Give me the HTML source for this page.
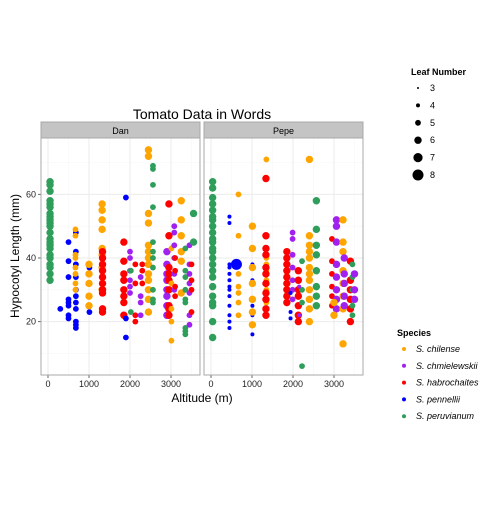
<!DOCTYPE html>
<html><head><meta charset="utf-8"><style>
body{margin:0;background:#fff;font-family:"Liberation Sans",sans-serif}
svg text{font-family:"Liberation Sans",sans-serif}
</style></head><body>
<svg id="chart" width="504" height="504" xmlns="http://www.w3.org/2000/svg">
<text x="202" y="119" font-size="14" text-anchor="middle">Tomato Data in Words</text>
<g id="panels"></g>
<text x="202" y="402" font-size="12" text-anchor="middle">Altitude (m)</text>
<text x="0" y="0" font-size="12" text-anchor="middle" transform="translate(19,256) rotate(-90)">Hypocotyl Length (mm)</text>
<g id="legend1"><text x="411" y="75" font-size="9" font-weight="bold">Leaf Number</text></g>
<g id="legend2"><text x="397" y="336" font-size="9" font-weight="bold">Species</text></g>
</svg>
<script>
const species=["S. chilense","S. chmielewskii","S. habrochaites","S. pennellii","S. peruvianum"];
const colors=["#FFA500","#A020F0","#FF0000","#0000FF","#2E9E5A"];
const leafLevels=[3,4,5,6,7,8];
const xTicks=[0,1000,2000,3000];
const yTicks=[20,40,60];
const panelNames=["Dan","Pepe"];
// groups: panel | species index | altitude | lengths | leaf
const danGroups=[
"0|4|50|64,63,61,58,57,56,54,53,52,51,50,48,46,45,44,43,41,40,38,37,35,33|6",
"0|3|300|24|5","0|3|500|45,39,34,27,26,25,22,21|5","0|3|680|48,42,38,34,30,28,26,24,20,19,18|5",
"0|0|670|49,47,41,40,37,35,32,30|5","0|3|1010|37,35,23|5","0|0|1000|38,35,32,28,25|6",
"0|0|1320|57,55,52,49,43,41,37,30|6","0|2|1330|42,40,38,36,34,32,30,29,24,23|6",
"0|2|1850|45,39,35,33,30,28,26,22|6","0|3|1900|59,21,15|5",
"0|1|2000|42,40,36,33,31,29|5","0|4|2020|36,23|5","0|2|2130|38,32,22,20|5",
"0|1|2260|34,28,26,22|5","0|2|2300|38,36,32|5",
"0|0|2450|74,72,54,51,44,42,40,38,35,33,30,27,23|6","0|4|2560|69,68,63,56,45,42,40,37,30,27,26|5",
"0|1|2900|42,38,35,33,30,28,25,22|6","0|2|2950|57,47,37,35,33,30,25,24,22|6","0|0|3010|43,32,24,20,14|5",
"0|1|3080|50,48,44,40,35,30|5","0|2|3100|40,36,31,28|5",
"0|0|3250|58,52,47,42,39,29|6","0|4|3350|43,36,34,30,27,26,18,17,16|5",
"0|1|3450|44,38,35,32,29,22,19|5","0|2|3500|38,33,30,23|5","0|4|3550|54,45|6"];
const pepeGroups=[
"1|4|40|64,62,59,57,55,53,52,50,48,46,45,43,42,40,38,36,34,31,28,26,25,20,15|6",
"1|3|450|53,51,38,37,35,33,31,30,28,25,22,20,18|4","1|3|620|38|8","1|0|670|60,47,35,31,29,26,22|5",
"1|3|1010|38,33,25,22,19,16|4","1|0|1010|50,43,37,32,27,23,19|6",
"1|0|1350|71,40,38,36,33,30,26|5","1|2|1340|65,47,43,41,37,35,32,29,27,24,22|6",
"1|2|1850|42,40,38,36,34,32,30,28,26|6","1|1|1990|48,46,41,37,33,30,27|5","1|3|1940|29,23,21|4",
"1|2|2130|36,33,30,28,25,22,20|6","1|4|2220|39,30,26,6|5","1|1|2150|31,22|4",
"1|0|2400|71,47,44,42,40,37,35,33,30,27,24,20|6","1|4|2570|58,49,44,41,36,31,28,25|6",
"1|2|2950|46,39,35,31,28,25|5","1|1|3060|52,50,45,38,34,30,27,24|6","1|0|3000|26,22|6",
"1|0|3220|52,45,42,36,32,28,24,13|6","1|1|3250|40,35,32,28,25|6","1|2|3400|39,33,30,27,24,20|6",
"1|4|3450|38,34,30,25,22|5","1|1|3500|35,30,27|6"];
const NS="http://www.w3.org/2000/svg";
function mk(t,a){const e=document.createElementNS(NS,t);for(const k in a)e.setAttribute(k,a[k]);return e;}
const panelX=[41,204],panelW=159,plotTop=138,plotBot=375;
function xs(p,alt){return panelX[p]+7+alt*0.041;}
function ys(v){return 258-(v-40)*3.18;}
function rs(l){return [1,2,2.9,3.7,4.6,5.5][l-3];}
const G=document.getElementById('panels');
panelNames.forEach((n,p)=>{
 const bg=mk('rect',{x:panelX[p],y:plotTop,width:panelW,height:plotBot-plotTop,fill:'#fff'});
 
 G.appendChild(bg);
 for(let v=10;v<=70;v+=10){G.appendChild(mk('line',{x1:panelX[p],x2:panelX[p]+panelW,y1:ys(v),y2:ys(v),stroke:v%20==0?'#ebebeb':'#f4f4f4','stroke-width':v%20==0?1:0.5}));}
 for(let a=-500;a<=3500;a+=500){const x=xs(p,a);if(x<panelX[p]||x>panelX[p]+panelW)continue;G.appendChild(mk('line',{x1:x,x2:x,y1:plotTop,y2:plotBot,stroke:a%1000==0?'#ebebeb':'#f4f4f4','stroke-width':a%1000==0?1:0.5}));}
 const st=mk('rect',{x:panelX[p],y:122,width:panelW,height:16,fill:'#c4c4c4',stroke:'#a8a8a8'});
 
 G.appendChild(st);
 const tl=mk('text',{x:panelX[p]+panelW/2,y:134,'font-size':9,'text-anchor':'middle'});tl.textContent=n;
 
 G.appendChild(tl);
 xTicks.forEach(t=>{const x=xs(p,t);G.appendChild(mk('line',{x1:x,x2:x,y1:plotBot,y2:plotBot+3,stroke:'#666'}));
  const tx=mk('text',{x:x,y:plotBot+12,'font-size':9,'text-anchor':'middle',fill:'#222'});tx.textContent=t;
  
  G.appendChild(tx);});
});
yTicks.forEach(t=>{G.appendChild(mk('line',{x1:38,x2:41,y1:ys(t),y2:ys(t),stroke:'#666'}));
 const ty=mk('text',{x:36,y:ys(t)+3,'font-size':9,'text-anchor':'end',fill:'#222'});ty.textContent=t;
 
 G.appendChild(ty);});
const pts=mk('g',{});G.appendChild(pts);
danGroups.concat(pepeGroups).forEach(s=>{const [p,sp,alt,lens,leaf]=s.split('|');
 lens.split(',').forEach(v=>{const c=mk('circle',{cx:xs(+p,+alt),cy:ys(+v),r:rs(+leaf),fill:colors[+sp]});
  
  pts.appendChild(c);});});
panelNames.forEach((n,p)=>{G.appendChild(mk('rect',{x:panelX[p],y:plotTop,width:panelW,height:plotBot-plotTop,fill:'none',stroke:'#a8a8a8'}));});
const L1=document.getElementById('legend1');
leafLevels.forEach((l,i)=>{const y=88+i*17.4;
 const c=mk('circle',{cx:418,cy:y,r:rs(l),fill:'#000'});
 
 L1.appendChild(c);
 const t=mk('text',{x:430,y:y+3,'font-size':9});t.textContent=l;
 
 L1.appendChild(t);});
const L2=document.getElementById('legend2');
species.forEach((s,i)=>{const y=349+i*16.8;
 const c=mk('circle',{cx:404,cy:y,r:2,fill:colors[i]});
 
 L2.appendChild(c);
 const t=mk('text',{x:416,y:y+3,'font-size':9});
 const a=mk('tspan',{'font-style':'italic'});a.textContent=s;t.appendChild(a);
 
 L2.appendChild(t);});
</script>
</body></html>
